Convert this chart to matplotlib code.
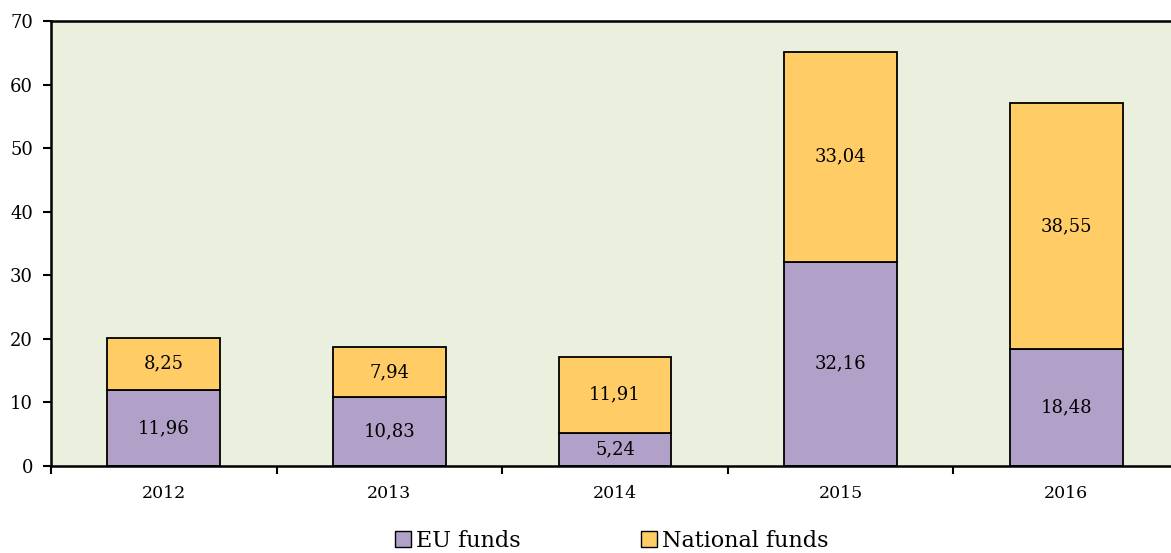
import matplotlib
matplotlib.use("Agg")
import matplotlib.pyplot as plt
from matplotlib.patches import Patch

years = ["2012", "2013", "2014", "2015", "2016"]
eu_funds = [11.96, 10.83, 5.24, 32.16, 18.48]
national_funds = [8.25, 7.94, 11.91, 33.04, 38.55]
yticks = [0, 10, 20, 30, 40, 50, 60, 70]

plt.rcParams['font.family'] = ['DejaVu Serif']

fig = plt.figure(figsize=(11.71, 5.53), dpi=100)
ax = fig.add_axes([51/1171, 1-466/553, 1128/1171, 445/553])
ax.set_facecolor('#EBEFDE')

purple = '#B1A0C7'
orange = '#FFCC66'
x = list(range(len(years)))
ax.bar(x, eu_funds, width=0.5, color=purple, edgecolor='black', linewidth=1.3)
ax.bar(x, national_funds, width=0.5, bottom=eu_funds, color=orange, edgecolor='black', linewidth=1.3)

def fmt(v):
    return f"{v:.2f}".replace('.', ',')

for i in x:
    ax.text(i, eu_funds[i]/2, fmt(eu_funds[i]), ha='center', va='center', fontsize=13)
    ax.text(i, eu_funds[i] + national_funds[i]/2, fmt(national_funds[i]), ha='center', va='center', fontsize=13)

ax.set_xlim(-0.5, 4.5)
ax.set_ylim(0, 70)
ax.set_yticks(yticks)
ax.set_yticklabels([str(t) for t in yticks], fontsize=13)
ax.set_xticks([i - 0.5 for i in range(len(years) + 1)])
ax.set_xticklabels([])
ax.set_xticks(x, minor=True)
ax.set_xticklabels(years, minor=True, fontsize=12.5)
ax.tick_params(axis='x', which='minor', length=0, pad=14)
ax.tick_params(axis='x', which='major', length=6, width=1.5, direction='out')
ax.tick_params(axis='y', length=6, width=1.5, direction='out', pad=7)

for s in ['left', 'bottom', 'top']:
    ax.spines[s].set_linewidth(1.8)
ax.spines['right'].set_visible(False)

handles = [Patch(facecolor=purple, edgecolor='black', label='EU funds'),
           Patch(facecolor=orange, edgecolor='black', label='National funds')]
fig.legend(handles=handles, loc='center', bbox_to_anchor=(612/1171, 1-541/553),
           ncol=2, frameon=False, fontsize=16, handlelength=0.7, handleheight=0.7,
           handletextpad=0.25, columnspacing=5.4)

fig.savefig('out.png', dpi=100)
